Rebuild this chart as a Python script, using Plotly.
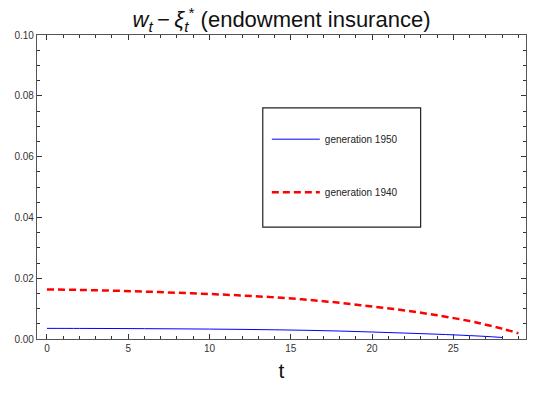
import plotly.graph_objects as go

t_1950 = [0, 2, 4, 6, 8, 10, 12, 14, 16, 18, 20, 22, 24, 26, 27, 28]
v_1950 = [0.0035, 0.00348, 0.00345, 0.0034, 0.00334, 0.00326, 0.00316, 0.00303, 0.00286, 0.00262, 0.0023, 0.00195, 0.00158, 0.00112, 0.00085, 0.0005]

t_1940 = [0, 2, 4, 6, 8, 10, 12, 14, 16, 18, 20, 22, 24, 26, 27, 28, 29]
v_1940 = [0.0163, 0.01615, 0.0159, 0.0156, 0.0152, 0.0148, 0.0143, 0.0137, 0.0129, 0.0119, 0.0107, 0.0094, 0.0078, 0.0059, 0.0047, 0.0034, 0.0019]

x_ticks = [0, 5, 10, 15, 20, 25]
y_ticks = [0.00, 0.02, 0.04, 0.06, 0.08, 0.10]

fig = go.Figure()
fig.add_trace(go.Scatter(x=t_1950, y=v_1950, mode="lines", name="generation 1950",
                         line=dict(color="#0000FF", width=1), legendgroup="a",
                         line_shape="spline"))
fig.add_trace(go.Scatter(x=t_1940, y=v_1940, mode="lines", name="generation 1940",
                         line=dict(color="#FF0000", width=2.5, dash="7px,4px"), legendgroup="b",
                         line_shape="spline"))

axis_common = dict(
    showgrid=False, zeroline=False, showline=True, linecolor="#555", linewidth=1.3,
    mirror="allticks", ticks="inside", ticklen=5, tickcolor="#333", tickwidth=1,
    tickfont=dict(family="Liberation Sans", size=10, color="#333"),
)

fig.update_xaxes(range=[-0.61, 29.47], tickvals=x_ticks, ticktext=[str(v) for v in x_ticks],
                 minor=dict(dtick=1, ticks="inside", ticklen=3, tickcolor="#333"),
                 title=dict(text="t", font=dict(family="Liberation Sans", size=21, color="#111"), standoff=10),
                 **axis_common)
fig.update_yaxes(range=[0, 0.1], tickvals=y_ticks, ticktext=[f"{v:.2f}" for v in y_ticks],
                 minor=dict(dtick=0.005, ticks="inside", ticklen=3, tickcolor="#333"),
                 **axis_common)

fig.add_shape(type="rect", xref="paper", yref="paper", x0=0.4617, x1=0.7845, y0=0.368, y1=0.760,
              line=dict(color="#222", width=1.2), fillcolor="rgba(0,0,0,0)")

fig.update_layout(
    width=536, height=393,
    margin=dict(l=37, r=10, t=35, b=54),
    paper_bgcolor="white", plot_bgcolor="white",
    title=dict(text="<i>w</i><sub><i>t</i></sub>\u2009\u2212\u2009<i>\u03be</i><sub><i>t</i></sub><sup>*</sup> (endowment insurance)",
               x=0.5, xref="paper", xanchor="center", y=0.97, yanchor="top",
               font=dict(family="Liberation Sans", size=22, color="#111")),
    legend=dict(x=0.47, y=0.705, xanchor="left", yanchor="top", bgcolor="rgba(0,0,0,0)",
                borderwidth=0, tracegroupgap=34, traceorder="grouped", itemwidth=48,
                font=dict(family="Liberation Sans", size=10, color="#222")),
    showlegend=True,
)

post = """
var gd = document.getElementById('{plot_id}');
function fixLegend(){
  gd.querySelectorAll('.legendlines path').forEach(function(p){ p.setAttribute('d','M5,0h48'); });
}
fixLegend();
gd.on('plotly_afterplot', fixLegend);
"""

fig.write_html("out.html", post_script=post)
